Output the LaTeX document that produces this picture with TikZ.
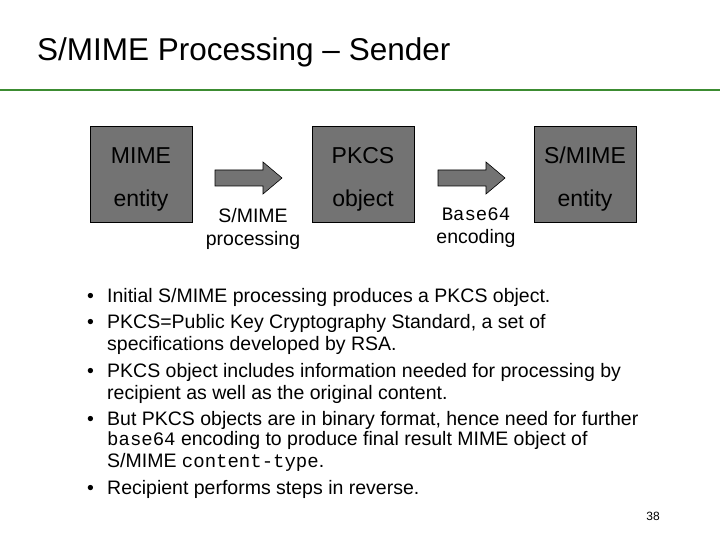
\documentclass[tikz,border=0pt]{standalone}
\usepackage{fontspec}
\setmainfont{Liberation Sans}
\setmonofont{Liberation Mono}
\begin{document}
\begin{tikzpicture}[x=1pt,y=-1pt,
  box/.style={draw=black,fill=black!55,line width=0.6pt},
  arr/.style={draw=black,fill=black!55,line width=0.6pt},
  lbl/.style={font=\fontsize{23}{25}\selectfont,anchor=base},
  sub/.style={font=\fontsize{19.5}{23}\selectfont,align=center,anchor=north},
  txt/.style={font=\fontsize{19.5}{23}\selectfont,anchor=base west,inner sep=0},
  mono/.style={font=\ttfamily\fontsize{19}{23}\selectfont}]
\useasboundingbox (0,0) rectangle (720,540);
\node[font=\fontsize{31.5}{34}\selectfont,anchor=base west,inner sep=0] (title) at (37,61) {S/MIME Processing – Sender};
\definecolor{grn}{RGB}{60,140,50}
\draw[grn,line width=1.2pt] (0,90) -- (720,90);
\draw[grn,line width=2.5pt] (0,90) -- (247,90);
% boxes
\foreach \n/\x/\a/\b in {b1/90/MIME/entity, b2/312/PKCS/object, b3/534/S\slash MIME/entity}{
  \path[box] (\x,126) rectangle ++(102,96);
  \node[lbl] (\n a) at (\x+51,164) {\a};
  \node[lbl] (\n b) at (\x+51,207) {\b};
}
\foreach \n/\x in {a1/215,a2/438}{
  \path[arr] (\x,170) -- (\x+48,170) -- (\x+48,162) -- (\x+67,178) -- (\x+48,194) -- (\x+48,186) -- (\x,186) -- cycle;
}
\node[sub] (l1) at (253,205) {S/MIME\\processing};
\node[sub] (l2) at (476,204) {{\ttfamily\fontsize{19}{23}\selectfont Base64}\\encoding};
% bullets
\foreach \y in {302,328,377,425,494}{ \node[txt] at (87,\y) {•}; }
\node[txt] at (107,302) {Initial S/MIME processing produces a PKCS object.};
\node[txt] at (107,328) {PKCS=Public Key Cryptography Standard, a set of};
\node[txt] at (107,350) {specifications developed by RSA.};
\node[txt] at (107,377) {PKCS object includes information needed for processing by};
\node[txt] at (107,399) {recipient as well as the original content.};
\node[txt] at (107,425) {But PKCS objects are in binary format, hence need for further};
\node[txt] at (107,445) {{\ttfamily\fontsize{19}{23}\selectfont base64} encoding to produce final result MIME object of};
\node[txt] at (107,467) {S/MIME {\ttfamily\fontsize{19}{23}\selectfont content-type}.};
\node[txt] at (107,494) {Recipient performs steps in reverse.};
\node[font=\fontsize{12}{14}\selectfont,anchor=base east,inner sep=0] (pg) at (660,520) {38};
\end{tikzpicture}
\end{document}
